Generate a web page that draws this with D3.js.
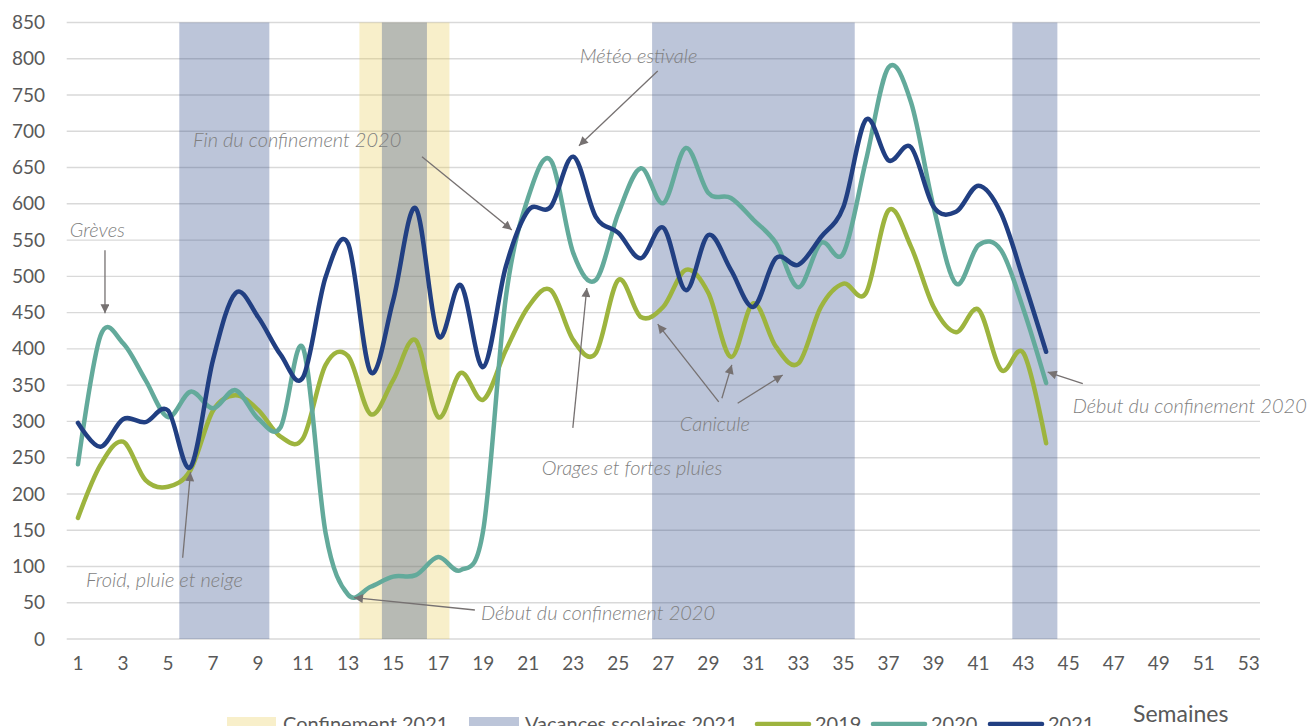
<!DOCTYPE html>
<html>
<head>
<meta charset="utf-8">
<script src="https://cdn.jsdelivr.net/npm/d3@7"></script>
<style>
  body { margin: 0; background: #fff; }
  svg { display: block; font-family: Lato, "Open Sans", sans-serif; }
</style>
</head>
<body>
<svg id="chart" width="1310" height="726"></svg>
<script>
// semaines et valeurs
var weeks = [1,2,3,4,5,6,7,8,9,10,11,12,13,14,15,16,17,18,19,20,21,22,23,24,25,26,27,28,29,30,31,32,33,34,35,36,37,38,39,40,41,42,43,44,45,46,47,48,49,50,51,52,53];
var xTicks = [1,3,5,7,9,11,13,15,17,19,21,23,25,27,29,31,33,35,37,39,41,43,45,47,49,51,53];
var yTicks = [0,50,100,150,200,250,300,350,400,450,500,550,600,650,700,750,800,850];

var s2019 = [167,240,272,219,210,233,315,336,316,279,277,378,390,310,357,412,306,367,330,398,458,481,412,394,495,444,458,509,477,389,463,403,380,458,490,477,591,541,458,423,454,371,394,270];
var s2020 = [241,418,408,357,306,341,318,343,304,292,401,146,61,72,86,88,113,95,150,470,609,660,532,495,587,649,601,677,615,608,578,546,485,546,532,660,788,740,596,490,543,536,454,353];
var s2021 = [298,265,303,299,315,237,385,477,444,392,361,499,545,368,467,594,418,488,375,513,591,596,665,582,560,525,567,481,557,509,458,525,516,554,596,716,660,678,596,589,625,587,495,396];

// periodes (semaine debut, semaine fin)
var confinement2021 = [[14,17]];
var vacances2021 = [[6,9],[15,16],[27,35],[43,44]];

var series = [
  {name: "2019", values: s2019, color: "#9db43e"},
  {name: "2020", values: s2020, color: "#63aa9b"},
  {name: "2021", values: s2021, color: "#213f82"}
];

// annotations : [semaine, valeur]
var notes = [
  {text: "Grèves", at: [0.64, 564], arrows: [[[2.2, 536], [2.2, 449]]]},
  {text: "Fin du confinement 2020", at: [6.11, 688], arrows: [[[16.28, 665], [20.27, 564]]]},
  {text: "Météo estivale", at: [23.29, 804], arrows: [[[26.75, 783], [23.25, 680]]]},
  {text: "Froid, pluie et neige", at: [1.36, 81], arrows: [[[5.65, 112], [6.0, 230]]]},
  {text: "Début du confinement 2020", at: [18.9, 36], arrows: [[[18.63, 40], [13.26, 57]]]},
  {text: "Orages et fortes pluies", at: [21.6, 236], arrows: [[[22.98, 291], [23.6, 484]]]},
  {text: "Canicule", at: [27.73, 296], arrows: [[[29.46, 327], [26.75, 434]], [[29.6, 332], [30.04, 378]], [[30.3, 325], [32.3, 364]]]},
  {text: "Début du confinement 2020", at: [45.18, 321], arrows: [[[45.63, 352], [44.07, 368]]]}
];

var svg = d3.select('#chart');
var plotLeft = 66.7, plotRight = 1260, plotTop = 22.5, plotBottom = 639;

var x = d3.scaleBand().domain(weeks).range([plotLeft, plotRight]).padding(0);
var bw = x.bandwidth();
var xc = function (w) { return x(w) + bw / 2; };
// position continue (semaines fractionnaires) pour les annotations
var xw = d3.scaleLinear().domain([1, 53]).range([xc(1), xc(53)]);
var y = d3.scaleLinear().domain([0, 850]).range([plotBottom, plotTop]);

var textColor = "#595959";

// grille
svg.append('g').selectAll('line').data(yTicks).enter().append('line')
  .attr('x1', plotLeft).attr('x2', plotRight)
  .attr('y1', function (d) { return y(d); }).attr('y2', function (d) { return y(d); })
  .attr('stroke', '#d9d9d9').attr('stroke-width', 1.4);

// bandes
function bands(list, fill, op) {
  svg.append('g').selectAll('rect').data(list).enter().append('rect')
    .attr('x', function (d) { return x(d[0]); })
    .attr('width', function (d) { return x(d[1]) + bw - x(d[0]); })
    .attr('y', y(850)).attr('height', y(0) - y(850))
    .attr('fill', fill).attr('fill-opacity', op);
}
bands(confinement2021, 'rgb(232,202,80)', 0.3);
bands(vacances2021, '#213f82', 0.3);

// axes
var yAxis = d3.axisLeft(y).tickValues(yTicks).tickSize(0).tickPadding(0);
svg.append('g').attr('transform', 'translate(45,0)').call(yAxis)
  .call(function (g) { g.select('.domain').remove(); })
  .selectAll('text').attr('fill', textColor).style('font-size', '19px').style('font-family', 'Lato');

var xAxis = d3.axisBottom(x).tickValues(xTicks).tickSize(0).tickPadding(0);
svg.append('g').attr('transform', 'translate(0,' + 656 + ')').call(xAxis)
  .call(function (g) { g.select('.domain').remove(); })
  .selectAll('text').attr('fill', textColor).style('font-size', '19px').style('font-family', 'Lato');

// courbes
var line = d3.line()
  .x(function (d, i) { return xc(weeks[i]); })
  .y(function (d) { return y(d); })
  .curve(d3.curveCatmullRom.alpha(0));

svg.append('g').selectAll('path').data(series).enter().append('path')
  .attr('d', function (s) { return line(s.values); })
  .attr('fill', 'none')
  .attr('stroke', function (s) { return s.color; })
  .attr('stroke-width', 4.5)
  .attr('stroke-linecap', 'round')
  .attr('stroke-linejoin', 'round');

// fleches
svg.append('defs').append('marker')
  .attr('id', 'head').attr('viewBox', '0 0 10 10')
  .attr('refX', 10).attr('refY', 5)
  .attr('markerWidth', 10).attr('markerHeight', 9)
  .attr('markerUnits', 'userSpaceOnUse')
  .attr('orient', 'auto')
  .append('path').attr('d', 'M0,0 L10,5 L0,10 z').attr('fill', '#767171');

var ann = svg.append('g');
notes.forEach(function (n) {
  ann.append('text')
    .attr('x', xw(n.at[0])).attr('y', y(n.at[1]))
    .attr('dy', '0.35em')
    .attr('fill', '#7f7f7f')
    .style('font-size', '20px').style('font-style', 'italic').style('font-weight', 300)
    .text(n.text);
  n.arrows.forEach(function (a) {
    ann.append('line')
      .attr('x1', xw(a[0][0])).attr('y1', y(a[0][1]))
      .attr('x2', xw(a[1][0])).attr('y2', y(a[1][1]))
      .attr('stroke', '#767171').attr('stroke-width', 1.3)
      .attr('marker-end', 'url(#head)');
  });
});

// legende
var leg = svg.append('g').style('font-size', '20px').attr('fill', textColor);
leg.append('rect').attr('x', 227).attr('y', 717).attr('width', 49).attr('height', 15)
  .attr('fill', 'rgb(232,202,80)').attr('fill-opacity', 0.3);
leg.append('text').attr('x', 283).attr('y', 731).text('Confinement 2021');
leg.append('rect').attr('x', 469).attr('y', 717).attr('width', 50).attr('height', 15)
  .attr('fill', '#213f82').attr('fill-opacity', 0.3);
leg.append('text').attr('x', 525).attr('y', 731).text('Vacances scolaires 2021');
var lx = [757, 873, 990];
series.forEach(function (s, i) {
  leg.append('line').attr('x1', lx[i]).attr('x2', lx[i] + 52).attr('y1', 724).attr('y2', 724)
    .attr('stroke', s.color).attr('stroke-width', 4.5).attr('stroke-linecap', 'round');
  leg.append('text').attr('x', lx[i] + 58).attr('y', 731).text(s.name);
});

svg.append('text').attr('x', 1133).attr('y', 722)
  .attr('fill', textColor).style('font-size', '23px')
  .text('Semaines');
</script>
</body>
</html>
